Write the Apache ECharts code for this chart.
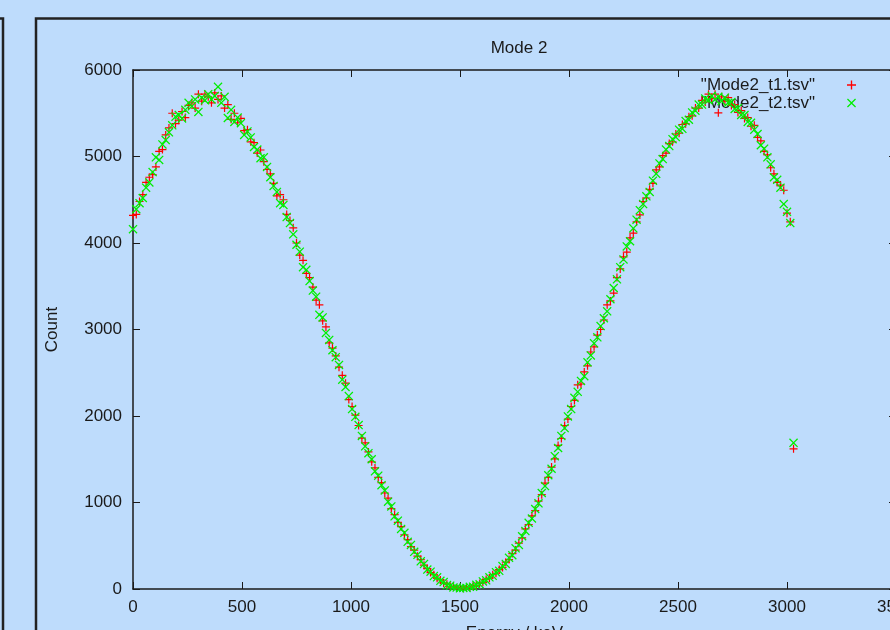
<!DOCTYPE html>
<html>
<head>
<meta charset="utf-8">
<script src="https://cdn.jsdelivr.net/npm/echarts@6/dist/echarts.min.js"></script>
<style>
  html, body { margin: 0; padding: 0; background: #bedcfc; }
  #chart { width: 890px; height: 630px; }
</style>
</head>
<body>
<div id="chart"></div>
<script>
// Energy bins (keV), shared by both runs
const energies = [
  0, 15, 30, 45, 60, 75, 90, 105, 120, 135,
  150, 165, 180, 195, 210, 225, 240, 255, 270, 285,
  300, 315, 330, 345, 360, 375, 390, 405, 420, 435,
  450, 465, 480, 495, 510, 525, 540, 555, 570, 585,
  600, 615, 630, 645, 660, 675, 690, 705, 720, 735,
  750, 765, 780, 795, 810, 825, 840, 855, 870, 885,
  900, 915, 930, 945, 960, 975, 990, 1005, 1020, 1035,
  1050, 1065, 1080, 1095, 1110, 1125, 1140, 1155, 1170, 1185,
  1200, 1215, 1230, 1245, 1260, 1275, 1290, 1305, 1320, 1335,
  1350, 1365, 1380, 1395, 1410, 1425, 1440, 1455, 1470, 1485,
  1500, 1515, 1530, 1545, 1560, 1575, 1590, 1605, 1620, 1635,
  1650, 1665, 1680, 1695, 1710, 1725, 1740, 1755, 1770, 1785,
  1800, 1815, 1830, 1845, 1860, 1875, 1890, 1905, 1920, 1935,
  1950, 1965, 1980, 1995, 2010, 2025, 2040, 2055, 2070, 2085,
  2100, 2115, 2130, 2145, 2160, 2175, 2190, 2205, 2220, 2235,
  2250, 2265, 2280, 2295, 2310, 2325, 2340, 2355, 2370, 2385,
  2400, 2415, 2430, 2445, 2460, 2475, 2490, 2505, 2520, 2535,
  2550, 2565, 2580, 2595, 2610, 2625, 2640, 2655, 2670, 2685,
  2700, 2715, 2730, 2745, 2760, 2775, 2790, 2805, 2820, 2835,
  2850, 2865, 2880, 2895, 2910, 2925, 2940, 2955, 2970, 2985,
  3000, 3015, 3030
];

// Counts from Mode2_t1.tsv
const countsT1 = [
  4320, 4330, 4480, 4560, 4700, 4760, 4790, 4880, 5060, 5080,
  5250, 5330, 5500, 5380, 5420, 5520, 5450, 5590, 5620, 5560,
  5720, 5640, 5720, 5690, 5620, 5735, 5660, 5700, 5560, 5600,
  5430, 5500, 5390, 5440, 5300, 5310, 5170, 5160, 5040, 5075,
  4940, 4850, 4800, 4690, 4545, 4560, 4500, 4330, 4260, 4175,
  4000, 3860, 3800, 3650, 3600, 3490, 3340, 3285, 3100, 3030,
  2845, 2785, 2695, 2565, 2470, 2380, 2190, 2110, 2010, 1890,
  1745, 1690, 1585, 1470, 1400, 1290, 1230, 1110, 1050, 930,
  860, 770, 720, 625, 570, 490, 450, 380, 340, 275,
  235, 190, 165, 125, 105, 70, 55, 32, 25, 12,
  14, 9, 18, 20, 34, 42, 64, 78, 110, 125,
  165, 182, 225, 250, 310, 340, 410, 450, 530, 590,
  695, 745, 845, 905, 1015, 1090, 1225, 1290, 1410, 1505,
  1660, 1740, 1890, 1965, 2110, 2180, 2360, 2370, 2510, 2580,
  2740, 2800, 2935, 3000, 3110, 3285, 3330, 3420, 3600, 3700,
  3840, 3895, 4060, 4115, 4245, 4325, 4480, 4520, 4620, 4690,
  4845, 4880, 5010, 5040, 5150, 5170, 5260, 5270, 5370, 5380,
  5460, 5470, 5560, 5560, 5650, 5630, 5720, 5670, 5720, 5505,
  5690, 5640, 5680, 5590, 5600, 5510, 5530, 5440, 5450, 5350,
  5360, 5220, 5180, 5060, 5020, 4870, 4800, 4700, 4670, 4610,
  4345, 4245, 1620
];

// Counts from Mode2_t2.tsv
const countsT2 = [
  4160, 4390, 4460, 4520, 4640, 4700, 4820, 4990, 4960, 5140,
  5190, 5280, 5360, 5460, 5480, 5440, 5540, 5620, 5580, 5660,
  5515, 5680, 5650, 5720, 5660, 5700, 5805, 5620, 5690, 5445,
  5540, 5400, 5450, 5385, 5250, 5290, 5220, 5110, 5080, 4980,
  4990, 4880, 4760, 4660, 4590, 4460, 4440, 4300, 4230, 4100,
  3980, 3900, 3720, 3690, 3560, 3450, 3380, 3170, 3140, 2960,
  2880, 2760, 2680, 2590, 2420, 2335, 2230, 2080, 1990, 1895,
  1770, 1650, 1570, 1500, 1360, 1310, 1200, 1140, 1010, 955,
  840, 790, 695, 650, 545, 510, 430, 395, 320, 290,
  225, 200, 150, 135, 95, 80, 45, 38, 18, 16,
  8, 13, 12, 25, 27, 48, 56, 88, 100, 135,
  152, 195, 210, 265, 290, 360, 390, 470, 510, 610,
  670, 765, 815, 925, 990, 1110, 1190, 1315, 1390, 1535,
  1630, 1770, 1860, 1995, 2080, 2210, 2280, 2405, 2460, 2620,
  2700, 2840, 2910, 3040, 3130, 3210, 3350, 3480, 3580, 3720,
  3810, 3960, 4020, 4170, 4270, 4380, 4450, 4540, 4590, 4720,
  4800, 4920, 4970, 5080, 5120, 5200, 5225, 5310, 5320, 5410,
  5425, 5510, 5530, 5600, 5600, 5670, 5650, 5700, 5660, 5690,
  5640, 5680, 5620, 5630, 5550, 5560, 5480, 5480, 5400, 5390,
  5310, 5260, 5130, 5090, 4990, 4910, 4760, 4730, 4640, 4450,
  4360, 4230, 1690
];

const seriesNames = ['"Mode2_t1.tsv"', '"Mode2_t2.tsv"'];
const xTicks = { min: 0, max: 3500, interval: 500 };
const yTicks = { min: 0, max: 6000, interval: 1000 };

const FONT = '"Liberation Sans", Arial, Helvetica, sans-serif';
const INK = '#1a1a1a';

// gnuplot-like point glyphs: "+" for the first run, "x" for the second
const PLUS = 'path://M3.4,0h1.2v3.4h3.4v1.2h-3.4v3.4h-1.2v-3.4h-3.4v-1.2h3.4z';
const CROSS = 'path://M0,1L1,0L5,4L9,0L10,1L6,5L10,9L9,10L5,6L1,10L0,9L4,5Z';

const pairs = (counts) => counts.map((c, i) => [energies[i], c]);

// Plain integer tick labels (no thousands separators)
const plain = (v) => String(v);

// One side of the plot frame: a line with inward ticks
function frameSide(extra) {
  return Object.assign({
    type: 'value',
    axisLine: { show: true, onZero: false, lineStyle: { color: INK, width: 1.5 } },
    axisTick: { show: true, inside: true, length: 7, lineStyle: { color: INK, width: 1 } },
    splitLine: { show: false }
  }, extra);
}

const chart = echarts.init(document.getElementById('chart'), null, { renderer: 'canvas' });

chart.setOption({
  backgroundColor: '#bedcfc',
  animation: false,
  textStyle: { fontFamily: FONT },
  title: {
    text: 'Mode 2',
    left: 514,
    top: 35,
    textAlign: 'center',
    textStyle: { fontFamily: FONT, fontSize: 17, fontWeight: 'normal', color: INK }
  },
  legend: {
    orient: 'vertical',
    right: 34,
    top: 76,
    padding: 0,
    align: 'right',
    itemWidth: 9,
    itemHeight: 14,
    itemGap: 0,
    z: 1,
    selectedMode: false,
    textStyle: { fontFamily: FONT, fontSize: 17, lineHeight: 18, color: INK, padding: [0, 27, 0, 0] },
    data: [
      { name: seriesNames[0], icon: PLUS },
      { name: seriesNames[1], icon: CROSS }
    ]
  },
  grid: {
    left: 133,
    top: 70,
    width: 763,
    height: 519,
    containLabel: false,
    outerBoundsMode: 'none'
  },
  xAxis: [
    frameSide({
      position: 'bottom',
      min: xTicks.min, max: xTicks.max, interval: xTicks.interval,
      name: 'Energy / keV',
      nameLocation: 'middle',
      nameGap: 36,
      nameTextStyle: { fontFamily: FONT, fontSize: 17, color: INK },
      axisLabel: { margin: 10, fontFamily: FONT, fontSize: 17, color: INK, formatter: plain }
    }),
    frameSide({
      position: 'top',
      min: xTicks.min, max: xTicks.max, interval: xTicks.interval,
      axisLabel: { show: false }
    })
  ],
  yAxis: [
    frameSide({
      position: 'left',
      min: yTicks.min, max: yTicks.max, interval: yTicks.interval,
      name: 'Count',
      nameLocation: 'middle',
      nameGap: 72,
      nameTextStyle: { fontFamily: FONT, fontSize: 17, color: INK },
      axisLabel: { margin: 11, fontFamily: FONT, fontSize: 17, color: INK, formatter: plain }
    }),
    frameSide({
      position: 'right',
      min: yTicks.min, max: yTicks.max, interval: yTicks.interval,
      axisLabel: { show: false }
    })
  ],
  graphic: [
    {
      type: 'polyline',
      silent: true,
      shape: { points: [[0, 18.5], [3, 18.5], [3, 640]] },
      style: { stroke: '#222', lineWidth: 2.5, fill: null }
    },
    {
      type: 'polyline',
      silent: true,
      shape: { points: [[36, 640], [36, 18.5], [900, 18.5]] },
      style: { stroke: '#222', lineWidth: 2.5, fill: null }
    }
  ],
  series: [
    {
      name: seriesNames[0],
      type: 'scatter',
      xAxisIndex: 0,
      yAxisIndex: 0,
      symbol: PLUS,
      symbolSize: 8,
      z: 2,
      itemStyle: { color: '#ff0000', opacity: 1 },
      data: pairs(countsT1)
    },
    {
      name: seriesNames[1],
      type: 'scatter',
      xAxisIndex: 0,
      yAxisIndex: 0,
      symbol: CROSS,
      symbolSize: 9,
      z: 3,
      itemStyle: { color: '#00ee00', opacity: 1 },
      data: pairs(countsT2)
    }
  ]
});
</script>
</body>
</html>
